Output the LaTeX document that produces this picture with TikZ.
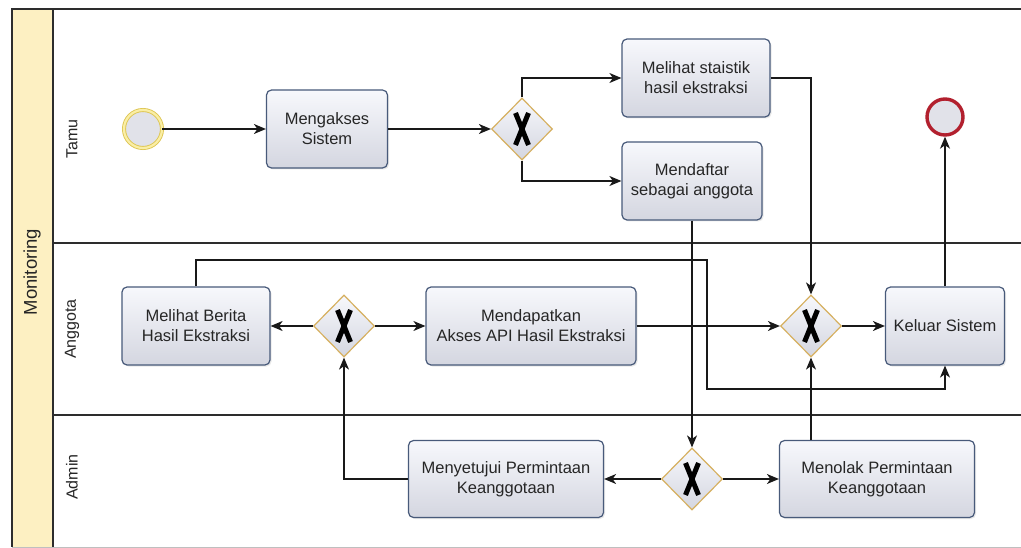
\documentclass[tikz,border=0pt]{standalone}
\usepackage{fontspec}
\setmainfont{Liberation Sans}
\usetikzlibrary{arrows.meta,shapes.geometric,shadows}

\definecolor{laneline}{RGB}{45,45,45}
\definecolor{band}{RGB}{253,240,194}
\definecolor{taskedge}{RGB}{72,90,122}
\definecolor{tasktop}{RGB}{247,248,252}
\definecolor{taskbot}{RGB}{212,214,224}
\definecolor{gwedge}{RGB}{214,176,96}
\definecolor{startedge}{RGB}{222,198,84}
\definecolor{startring}{RGB}{250,238,165}
\definecolor{endedge}{RGB}{178,32,46}
\definecolor{ink}{RGB}{38,38,38}

\tikzset{
  task/.style={rectangle, rounded corners=5pt, draw=taskedge, line width=1.2pt,
    top color=tasktop, bottom color=taskbot, minimum height=78pt, inner sep=0pt,
    align=center, text=ink, font=\fontsize{16.5}{20}\selectfont,
    drop shadow={opacity=0.18, shadow xshift=1.5pt, shadow yshift=-1.5pt}},
  gateway/.style={diamond, draw=gwedge, line width=1.2pt, top color=tasktop,
    bottom color=taskbot, minimum width=61pt, minimum height=62pt, inner sep=0pt},
  startevent/.style={circle, draw=startedge, line width=0.9pt, double=startring,
    double distance=2.2pt, fill=taskbot!70!white, minimum size=38pt, inner sep=0pt},
  endevent/.style={circle, draw=endedge, line width=3.4pt, fill=taskbot!70!white,
    minimum size=36pt, inner sep=0pt},
  lanelabel/.style={rotate=90, text=ink, font=\fontsize{16}{19}\selectfont},
  poollabel/.style={rotate=90, text=ink, font=\fontsize{18.5}{22}\selectfont},
  flow/.style={draw=black!90, line width=1.1pt,
    -{Stealth[length=12pt,width=10pt,inset=3.5pt]}},
  plainflow/.style={draw=black!90, line width=1.1pt},
  xmark/.style={draw=black, line width=5pt},
}

% exclusive-gateway cross
\newcommand\gwcross[1]{%
  \draw[xmark] ([shift={(-6.5pt,16pt)}]#1.center) -- ([shift={(6.5pt,-16pt)}]#1.center)
               ([shift={(-6.5pt,-16pt)}]#1.center) -- ([shift={(6.5pt,16pt)}]#1.center);}

\begin{document}
\begin{tikzpicture}[x=1pt, y=-1pt]
  \useasboundingbox (0,0) rectangle (1021,548);
  \fill[white] (0,0) rectangle (1021,548);

  % pool and lanes
  \fill[band] (12,9) rectangle (53,547);
  \draw[laneline, line width=1.6pt] (1021,9) -- (12,9) -- (12,547);
  \draw[laneline, line width=1.3pt] (53,9) -- (53,547);
  \draw[laneline, line width=1.3pt] (53,243) -- (1021,243);
  \draw[laneline, line width=1.3pt] (53,415) -- (1021,415);
  \draw[black!25, line width=1pt] (12,547) -- (1021,547);

  \node[poollabel] (pool) at (32,272) {Monitoring};
  \node[lanelabel] (laneTamu) at (72,139) {Tamu};
  \node[lanelabel] (laneAnggota) at (72,329) {Anggota};
  \node[lanelabel] (laneAdmin) at (72,477) {Admin};

  % Tamu lane
  \node[startevent] (start) at (143,129) {};
  \node[task, minimum width=121pt] (akses) at (327,129) {Mengakses\\Sistem};
  \node[gateway] (g1) at (522,129) {};
  \node[task, minimum width=148pt] (statistik) at (696,78) {Melihat staistik\\hasil ekstraksi};
  \node[task, minimum width=140pt] (daftar) at (692,181) {Mendaftar\\sebagai anggota};
  \node[endevent] (finish) at (945,117) {};

  % Anggota lane
  \node[task, minimum width=148pt] (berita) at (196,326) {Melihat Berita\\Hasil Ekstraksi};
  \node[gateway] (g2) at (344,326) {};
  \node[task, minimum width=210pt] (api) at (531,326) {Mendapatkan\\Akses API Hasil Ekstraksi};
  \node[gateway] (g3) at (811,326) {};
  \node[task, minimum width=119pt] (keluar) at (945,326) {Keluar Sistem};

  % Admin lane
  \node[gateway] (g4) at (692,479) {};
  \node[task, minimum width=195pt, minimum height=77pt] (setuju) at (506,479) {Menyetujui Permintaan\\Keanggotaan};
  \node[task, minimum width=195pt, minimum height=77pt] (tolak) at (877,479) {Menolak Permintaan\\Keanggotaan};

  \gwcross{g1}
  \gwcross{g2}
  \gwcross{g3}
  \gwcross{g4}

  \coordinate (bend1) at (707,260);
  \coordinate (bend2) at (707,389);

  % sequence flows
  \draw[flow] (start) -- (akses);
  \draw[flow] (akses) -- (g1);
  \draw[flow] (g1.north) |- (statistik.west);
  \draw[flow] (g1.south) |- (daftar.west);
  \draw[flow] (statistik.east) -| (g3.north);
  \draw[flow] (daftar.south) -- (g4.north);
  \draw[flow] (g4.west) -- (setuju.east);
  \draw[flow] (g4.east) -- (tolak.west);
  \draw[flow] (g3.south |- tolak.north) -- (g3.south);
  \draw[flow] (setuju.west) -| (g2.south);
  \draw[flow] (g2.west) -- (berita.east);
  \draw[flow] (g2.east) -- (api.west);
  \draw[flow] (api.east) -- (g3.west);
  \draw[flow] (g3.east) -- (keluar.west);
  \draw[flow] (berita.north) |- (bend1) -- (bend2) -| (keluar.south);
  \draw[flow] (keluar.north) -- (finish.south);
\end{tikzpicture}
\end{document}
